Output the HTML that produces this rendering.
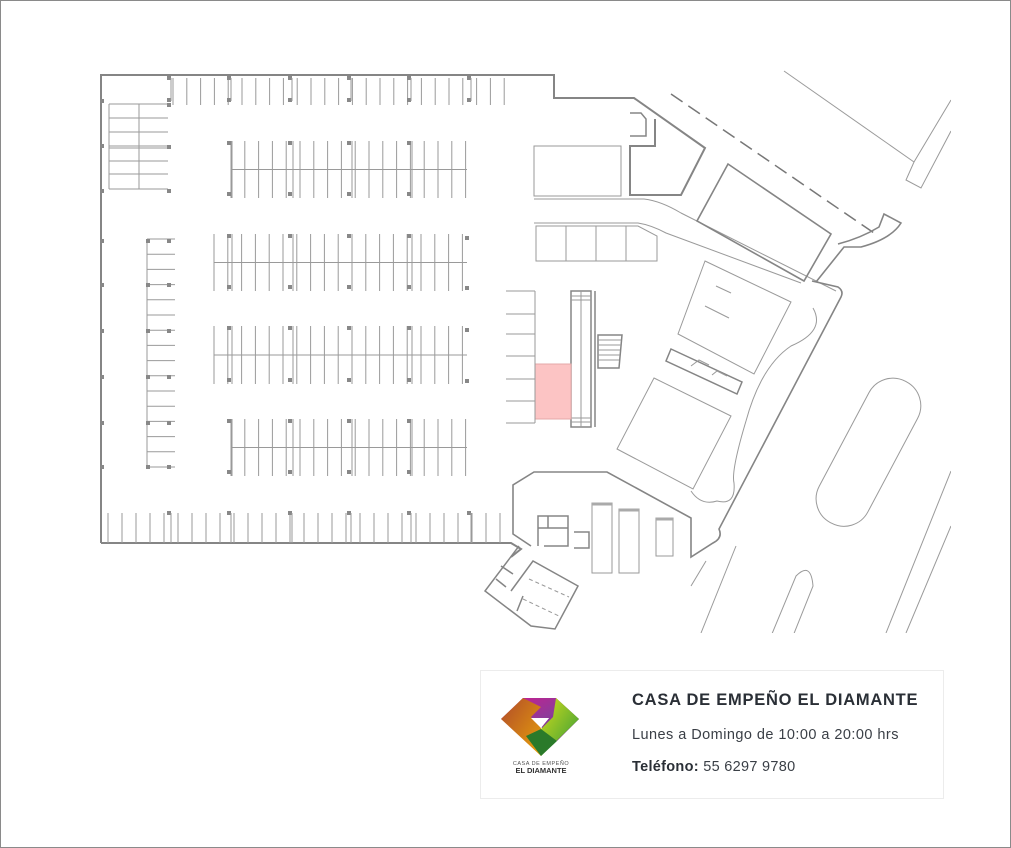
<!DOCTYPE html>
<html><head><meta charset="utf-8"><style>
html,body{margin:0;padding:0;background:#fff}
#wrap{position:relative;width:1009px;height:846px;border:1px solid #8a8a8a;overflow:hidden;background:#fff}
svg{position:absolute;left:0;top:0}
.card{position:absolute;left:479px;top:669px;width:462px;height:127px;border:1px solid #ececec;background:#fff}
.t{position:absolute;left:151px;font-family:"Liberation Sans",sans-serif;color:#2a2f36;white-space:nowrap}
</style></head><body><div id="wrap">
<svg id="map" width="1011" height="848" viewBox="0 0 1011 848">
<defs><clipPath id="cp"><rect x="0" y="0" width="950" height="632"/></clipPath></defs>
<g id="g" clip-path="url(#cp)" fill="none" stroke="#9a9a9a" stroke-width="1">
<polyline stroke="#858585" stroke-width="2" points="100,542 100,74 553,74 553,97 633,97 704,147 680,194 629,194 629,145 654,145 654,118"/>
<polyline stroke="#858585" stroke-width="1.5" points="629,112 640,112 645,118 645,135 629,135"/>
<polyline stroke="#858585" stroke-width="2" points="100,542 510,542 520,548 510,556"/>
<rect x="533" y="145" width="87" height="50"/>
<path d="M533,198 L643,198 Q660,200 680,212 L835,290"/>
<path d="M533,222 L637,222 Q650,224 665,232 L800,282"/>
<polygon points="535,225 637,225 656,235 656,260 535,260"/>
<line x1="565" y1="225" x2="565" y2="260"/><line x1="595" y1="225" x2="595" y2="260"/><line x1="625" y1="225" x2="625" y2="260"/>
<polygon stroke="#858585" stroke-width="1.6" points="727,163 830,233 803,280 696,220"/>
<line stroke="#777" stroke-width="1.5" stroke-dasharray="14,7" x1="670" y1="93" x2="873" y2="232"/>
<path stroke="#858585" stroke-width="1.6" d="M837,243 Q860,237 878,226 L883,213 L900,222 Q890,238 860,246 L843,246 L815,281"/>
<path stroke="#858585" stroke-width="1.6" d="M811,280 L837,286 Q843,290 840,296 L718,528 Q722,537 712,542 L690,556 L690,517 L606,471 L533,471 L512,484 L512,533 L530,545"/>
<polygon points="704,260 790,301 753,373 677,333"/>
<line x1="704" y1="305" x2="728" y2="317"/><line x1="715" y1="285" x2="730" y2="292"/>
<polygon points="653,377 730,415 692,488 616,448"/>
<polygon stroke="#858585" stroke-width="1.5" points="670,348 741,381 736,393 665,360"/>
<path d="M690,365 l8,-6 l10,5 M711,374 l5,-4 l10,5"/>
<path d="M812,307 Q825,330 790,345 Q760,365 745,420 Q730,470 733,482 Q735,505 716,500 Q700,505 690,490"/>
<rect x="570" y="290" width="20" height="136" stroke="#858585" stroke-width="1.5"/>
<line x1="580" y1="290" x2="580" y2="426"/><line x1="594" y1="290" x2="594" y2="426" stroke="#858585" stroke-width="1.5"/>
<path d="M570,295 h20 M570,299 h20 M570,417 h20 M570,421 h20"/>
<polygon stroke="#858585" stroke-width="1.5" points="597,334 621,334 618,367 597,367"/>
<path d="M597,339 h23 M597,344 h23 M597,349 h22 M597,354 h22 M597,359 h21"/>
<rect x="534" y="363" width="36" height="55" fill="#fcc4c4" stroke="#e4a8a8"/>
<path d="M505,290 h29 M505,313 h29 M505,333 h29 M505,355 h29 M505,378 h29 M505,400 h29 M505,422 h29 M534,290 v132"/>
<rect x="591" y="502" width="20" height="70"/><rect x="618" y="508" width="20" height="64"/><rect x="655" y="517" width="17" height="38"/>
<path stroke="#aaa" stroke-width="3" d="M591,503 h20 M618,509 h20 M655,518 h17"/>
<path stroke="#858585" stroke-width="1.5" d="M537,545 v-30 h30 v12 h-30 M547,515 v12 M543,545 h24 v-18 M573,531 h15 v16 h-15"/>
<path stroke="#858585" stroke-width="1.5" d="M518,545 L484,590 L530,625 L554,628 L577,585 L532,560 L510,590 M500,565 l12,8 M495,578 l10,8 M522,595 l-6,15"/>
<path stroke-dasharray="4,3" d="M528,578 l40,18 M522,598 l38,18"/>
<rect x="840" y="371" width="55" height="160" rx="27" transform="rotate(28 867 451)"/>
<path d="M768,640 L795,575 Q810,560 812,585 L790,640"/>
<line x1="885" y1="632" x2="950" y2="470"/><line x1="905" y1="632" x2="950" y2="525"/>
<line x1="700" y1="632" x2="735" y2="545"/><line x1="690" y1="585" x2="705" y2="560"/>
<line x1="783" y1="70" x2="913" y2="161"/>
<polyline points="950,99 913,161 905,179 920,187 950,130"/>
</g>
</svg>
<div class="card">
<div class="t" style="top:20px;font-size:16.5px;font-weight:bold;letter-spacing:0.75px">CASA DE EMPEÑO EL DIAMANTE</div>
<div class="t" style="top:56px;font-size:14.5px;letter-spacing:0.45px;color:#3a3f46">Lunes a Domingo de 10:00 a 20:00 hrs</div>
<div class="t" style="top:88px;font-size:14.5px;letter-spacing:0.3px;color:#3a3f46"><b style="color:#2a2f36">Teléfono:</b> 55 6297 9780</div>
</div>
<svg width="1011" height="848" viewBox="0 0 1011 848" style="pointer-events:none">
<defs>
<linearGradient id="lg1" x1="0" y1="0" x2="1" y2="1"><stop offset="0" stop-color="#d11a8e"/><stop offset=".5" stop-color="#8e3a9a"/><stop offset="1" stop-color="#6a1c8a"/></linearGradient>
<linearGradient id="lg2" x1="0" y1="0" x2="1" y2="1"><stop offset="0" stop-color="#d4dc1c"/><stop offset="1" stop-color="#2c9a38"/></linearGradient>
<linearGradient id="lg3" x1="0" y1="0" x2="1" y2="1"><stop offset="0" stop-color="#b04a2a"/><stop offset="1" stop-color="#e8a20a"/></linearGradient>
</defs>
<polygon points="500,718 522,697 555,697 578,718 556,740 540,726 548,717 532,717 540,726" fill="url(#lg1)"/>
<polygon points="500,718 522,697 540,706 530,716 540,727 540,755" fill="url(#lg3)"/>
<polygon points="555,697 578,718 540,755 540,728 552,716" fill="url(#lg2)"/>
<polygon points="525,735 540,755 556,740 540,728" fill="#2a7a2a"/>
<polygon points="530,717 548,717 540,727" fill="#fff"/>
<text x="540" y="764" font-family="Liberation Sans,sans-serif" font-size="5.5" fill="#555" text-anchor="middle" letter-spacing=".5">CASA DE EMPEÑO</text>
<text x="540" y="772" font-family="Liberation Sans,sans-serif" font-size="7.5" font-weight="bold" fill="#333" text-anchor="middle">EL DIAMANTE</text>
</svg>
</div>
<script>
(function(){
var g=document.getElementById('g'),NS='http://www.w3.org/2000/svg';
function L(x1,y1,x2,y2){var e=document.createElementNS(NS,'line');e.setAttribute('x1',x1);e.setAttribute('y1',y1);e.setAttribute('x2',x2);e.setAttribute('y2',y2);g.appendChild(e);}
function P(x,y){var e=document.createElementNS(NS,'rect');e.setAttribute('x',x-2);e.setAttribute('y',y-2);e.setAttribute('width',4);e.setAttribute('height',4);e.setAttribute('fill','#888');e.setAttribute('stroke','none');g.appendChild(e);}
var st=13.8,x;
for(x=172;x<=512;x+=st)L(x,77,x,104);
[168,228,289,348,408,468].forEach(function(c){P(c,77);P(c,99);L(c+2,77,c+2,100);});
function row(x0,x1,y0,y1){for(var x=x0;x<=x1+0.5;x+=st)L(x,y0,x,y1);L(x0,(y0+y1)/2,x1,(y0+y1)/2);
[228,289,348,408].forEach(function(c){if(c>=x0-2){P(c,y0+2);P(c,y1-4);L(c+3,y0,c+3,y1);}});}
row(230,466,140,197);row(213,466,233,290);row(213,466,325,383);row(230,466,418,475);
[466].forEach(function(c){P(c,237);P(c,287);P(c,329);P(c,380);});
for(x=107;x<=500;x+=14)L(x,512,x,542);
[168,228,289,348,408,468].forEach(function(c){P(c,512);L(c+2,512,c+2,542);});
[103,117,131,145,160,173,188].forEach(function(y){L(108,y,167,y);});L(108,103,108,188);L(138,103,138,188);L(108,147,167,147);
P(168,104);P(168,146);P(168,190);
for(var y=238;y<=466;y+=15.2)L(146,y,174,y);L(146,238,146,466);
[240,284,330,376,422,466].forEach(function(y){P(147,y);P(168,y);});
[100,145,190,240,284,330,376,422,466].forEach(function(y){P(101,y);});
})();
</script>
</body></html>
